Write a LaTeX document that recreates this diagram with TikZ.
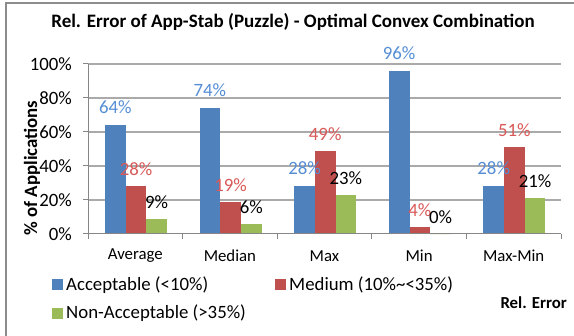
\documentclass[tikz,border=0pt]{standalone}
\usepackage{fontspec}
\setmainfont{Carlito}
\definecolor{cblue}{RGB}{79,129,189}
\definecolor{cred}{RGB}{192,80,77}
\definecolor{cgreen}{RGB}{155,187,89}
\definecolor{lblue}{RGB}{85,142,213}
\definecolor{lred}{RGB}{217,89,89}
\definecolor{gridc}{RGB}{170,170,170}
\definecolor{axisc}{RGB}{134,134,134}
\definecolor{framec}{RGB}{140,140,140}
\begin{document}
\begin{tikzpicture}[x=1pt,y=-1pt,
  bar/.style={draw=none},
  tick/.style={font=\fontsize{18.8}{20}\selectfont, anchor=east, inner sep=0pt},
  cat/.style={font=\fontsize{16.8}{18}\selectfont, inner sep=0pt},
  dl/.style={font=\fontsize{18.8}{20}\selectfont, inner sep=0pt},
  leg/.style={font=\fontsize{18.8}{20}\selectfont, anchor=west, inner sep=0pt},
  gridline/.style={draw=gridc, line width=1.2pt},
  axisline/.style={draw=axisc, line width=1pt}]
\useasboundingbox (0,0) rectangle (574,336);
\fill[white] (0,0) rectangle (574,336);
% frame
\draw[framec, line width=2pt] (6,336) -- (6,3) -- (574,3);
% title
\node[font=\bfseries\fontsize{19}{22}\selectfont, inner sep=0pt] (title) at (293,22) {Rel. Error of App-Stab (Puzzle) - Optimal Convex Combination};
% gridlines
\foreach \v in {20,40,60,80,100} {
  \draw[gridline] (88,{234-1.7*\v}) -- (561,{234-1.7*\v});
}
% y ticks and labels
\foreach \v in {0,20,40,60,80,100} {
  \draw[axisline] (83,{234-1.7*\v}) -- (88,{234-1.7*\v});
  \node[tick] (yl\v) at (72,{234-1.7*\v}) {\v\%};
}
% bars
\foreach \i/\a/\b/\c in {0/64/28/8.6, 1/74/19/6, 2/28/49/23, 3/96/4/0, 4/28/51/21} {
  \pgfmathsetmacro{\s}{88+94.6*\i+17}
  \fill[cblue] (\s,234) rectangle ({\s+20.7},{234-1.7*\a});
  \fill[cred] ({\s+20.7},234) rectangle ({\s+41.4},{234-1.7*\b});
  \fill[cgreen] ({\s+41.4},234) rectangle ({\s+62},{234-1.7*\c});
}
% data labels
\foreach \i/\a/\b/\c/\ta/\tb/\tc in {0/64/28/8.6/64/28/9, 1/74/19/6/74/19/6, 2/28/49/23/28/49/23, 3/96/4/0/96/4/0, 4/28/51/21/28/51/21} {
  \pgfmathsetmacro{\s}{88+94.6*\i+17}
  \node[dl, text=lblue] (da\i) at ({\s+10.3},{234-1.7*\a-18}) {\ta\%};
  \node[dl, text=lred] (db\i) at ({\s+31},{234-1.7*\b-17}) {\tb\%};
  \node[dl, text=black] (dc\i) at ({\s+51.7},{234-1.7*\c-17}) {\tc\%};
}
% axes
\draw[axisline] (88,64) -- (88,234) -- (561,234);
\foreach \i in {0,...,5} {
  \draw[axisline] ({88+94.6*\i},234) -- ({88+94.6*\i},239);
}
% category labels
\foreach \i/\t in {0/Average,1/Median,2/Max,3/Min,4/Max-Min} {
  \node[cat] (c\i) at ({88+94.6*\i+47.3},256) {\t};
}
% axis titles
\node[font=\bfseries\fontsize{18.8}{20}\selectfont, rotate=90, inner sep=0pt] (ytitle) at (32,168) {\% of Applications};
\node[font=\bfseries\fontsize{16.8}{18}\selectfont, anchor=east, inner sep=0pt] (xtitle) at (567,303) {Rel. Error};
% legend
\fill[cblue] (52,279.5) rectangle (63,290.5);
\node[leg] (l1) at (66,285) {Acceptable (<10\%)};
\fill[cred] (275,279.5) rectangle (286,290.5);
\node[leg] (l2) at (289,285) {Medium (10\%\textasciitilde<35\%)};
\fill[cgreen] (52,308) rectangle (63,319);
\node[leg] (l3) at (66,313.5) {Non-Acceptable (>35\%)};
\end{tikzpicture}
\end{document}
